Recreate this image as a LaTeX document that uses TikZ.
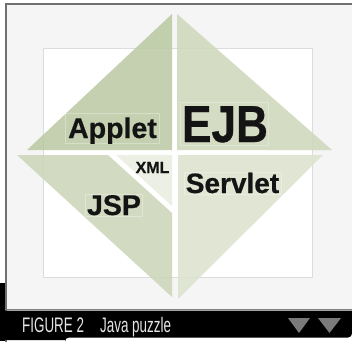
\documentclass[tikz,border=0pt]{standalone}
\usepackage{fontspec}
\setmainfont{Liberation Sans}
\newfontfamily\heavysans[FakeBold=0.6]{Liberation Sans Bold}
\definecolor{framegray}{HTML}{707070}
\definecolor{panel}{HTML}{F5F5F5}
\definecolor{rimgray}{HTML}{DCDCDC}
\definecolor{appletgreen}{HTML}{BCCAA4}
\definecolor{ejbgreen}{HTML}{CFD8BC}
\definecolor{jspgreen}{HTML}{CDD6BA}
\definecolor{servletgreen}{HTML}{DDE3CF}
\definecolor{xmlgreen}{HTML}{EAEDE0}
\definecolor{captext}{HTML}{E6E6E6}
\definecolor{arrowgray}{HTML}{7A7A7A}
\begin{document}
\begin{tikzpicture}[x=1pt,y=-1pt,
  piece/.style={fill opacity=0.88},
  word/.style={anchor=base, inner sep=0pt, text=black!92},
  ghostbox/.style={draw=white, draw opacity=0.3, line width=0.7pt},
  captionword/.style={anchor=base west, inner sep=0pt, text=captext, font=\fontsize{21}{21}\selectfont, xscale=0.64}]
  \useasboundingbox (0,0) rectangle (352,342);
  \fill[white] (0,0) rectangle (352,342);

  % framed panel
  \fill[panel] (5,3) rectangle (352,310);
  \draw[framegray, line width=2pt] (6,342) -- (6,4) -- (352,4);
  \fill[black] (0,283) rectangle (5,341);
  \draw[gray, line width=1.6pt] (5,309.5) -- (352,309.5);
  \fill[black] (0,310.5) -- (352,310.5) -- (352,333)
     [rounded corners=4pt] -- (352,337.5) -- (65,337.5) [sharp corners] -- (65,340) -- (0,340) -- cycle;

  % inner sheet
  \draw[rimgray, fill=white, line width=1pt] (43,49) rectangle (312,277);

  % puzzle pieces
  \fill[appletgreen, piece] (27,150) -- (172,150) -- (172,14) -- cycle;
  \fill[ejbgreen, piece] (177,14) -- (177,150) -- (332,150) -- cycle;
  \fill[jspgreen, piece] (17,155) -- (108,155) -- (172,213) -- (172,297) -- cycle;
  \fill[xmlgreen, piece] (116,155) -- (172,155) -- (172,206) -- cycle;
  \fill[servletgreen, piece] (178,155) -- (323,155) -- (178,299) -- cycle;

  % faint text frames
  \draw[ghostbox] (65,113) rectangle (159,143);
  \draw[ghostbox] (180,102) rectangle (268,145);
  \draw[ghostbox] (85,194) rectangle (142,216);
  \draw[ghostbox] (184,172) rectangle (281,194);

  % labels
  \node[word, font=\heavysans\fontsize{28.5}{28.5}\selectfont] (applet) at (112.5,138) {Applet};
  \node[word, font=\heavysans\fontsize{52}{52}\selectfont, xscale=0.85] (ejb) at (225,142) {EJB};
  \node[word, font=\heavysans\fontsize{16}{16}\selectfont] (xml) at (152.5,173) {XML};
  \node[word, font=\heavysans\fontsize{28}{28}\selectfont] (servlet) at (232.5,193) {Servlet};
  \node[word, font=\heavysans\fontsize{28.5}{28.5}\selectfont] (jsp) at (114,215) {JSP};

  % caption bar
  \node[captionword] (fig) at (22,332) {FIGURE 2};
  \node[captionword] (title) at (100,332) {Java puzzle};
  \fill[arrowgray] (288,318) -- (310,318) -- (299,333) -- cycle;
  \fill[arrowgray] (318,318) -- (341,318) -- (329.5,333) -- cycle;
\end{tikzpicture}
\end{document}
